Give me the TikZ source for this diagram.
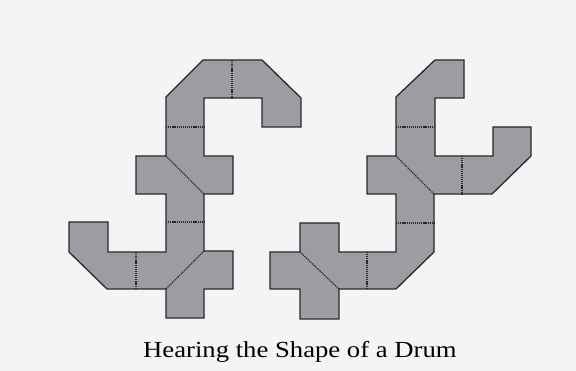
\documentclass[tikz,border=0pt]{standalone}
\usepackage{fontspec}
\setmainfont{Liberation Serif}
\definecolor{bgc}{RGB}{244,244,244}
\definecolor{tilefill}{RGB}{158,156,163}
\definecolor{edgec}{RGB}{40,40,45}
\tikzset{
  drum/.style={fill=tilefill, draw=edgec, line width=1.3pt, line join=miter},
  seam/.style={draw=edgec, line width=1.2pt, dash pattern=on 1.2pt off 0.9pt},
}
\begin{document}
\begin{tikzpicture}[x=1pt,y=-1pt]
\fill[bgc] (0,0) rectangle (576,371);
\useasboundingbox (0,0) rectangle (576,371);
% left drum
\draw[drum] (166,97) -- (203,60) -- (262,60) -- (301,98) -- (301,127) -- (262,127) -- (262,98)
  -- (204,98) -- (204,156) -- (233,156) -- (233,194) -- (204,194) -- (204,251) -- (233,251)
  -- (233,289) -- (204,289) -- (204,318) -- (166,318) -- (166,289) -- (107,289) -- (69,252)
  -- (69,222) -- (108,222) -- (108,252) -- (166,252) -- (166,194) -- (136,194) -- (136,156)
  -- (166,156) -- cycle;
\draw[seam] (232,60) -- (232,98);
\draw[seam] (166,127) -- (204,127);
\draw[seam] (166,156) -- (204,194);
\draw[seam] (166,222) -- (204,222);
\draw[seam] (204,251) -- (166,289);
\draw[seam] (136,252) -- (136,289);
% right drum
\draw[drum] (396,97) -- (435,60) -- (464,60) -- (464,98) -- (435,98) -- (435,156) -- (493,156)
  -- (493,127) -- (531,127) -- (531,156) -- (492,194) -- (434,194) -- (434,252) -- (396,289)
  -- (339,289) -- (339,319) -- (300,319) -- (300,289) -- (270,289) -- (270,252) -- (300,252)
  -- (300,223) -- (339,223) -- (339,252) -- (396,252) -- (396,194) -- (367,194) -- (367,156)
  -- (396,156) -- cycle;
\draw[seam] (396,127) -- (434,127);
\draw[seam] (396,156) -- (434,194);
\draw[seam] (462,156) -- (462,194);
\draw[seam] (396,223) -- (434,223);
\draw[seam] (367,252) -- (367,289);
\draw[seam] (300,252) -- (339,289);
% caption
\node[anchor=base west, inner sep=0pt, font=\fontsize{23}{26}\selectfont, text=black] (caption)
  at (143,358) {\scalebox{1.16}[1]{Hearing the Shape of a Drum}};
\end{tikzpicture}
\end{document}
